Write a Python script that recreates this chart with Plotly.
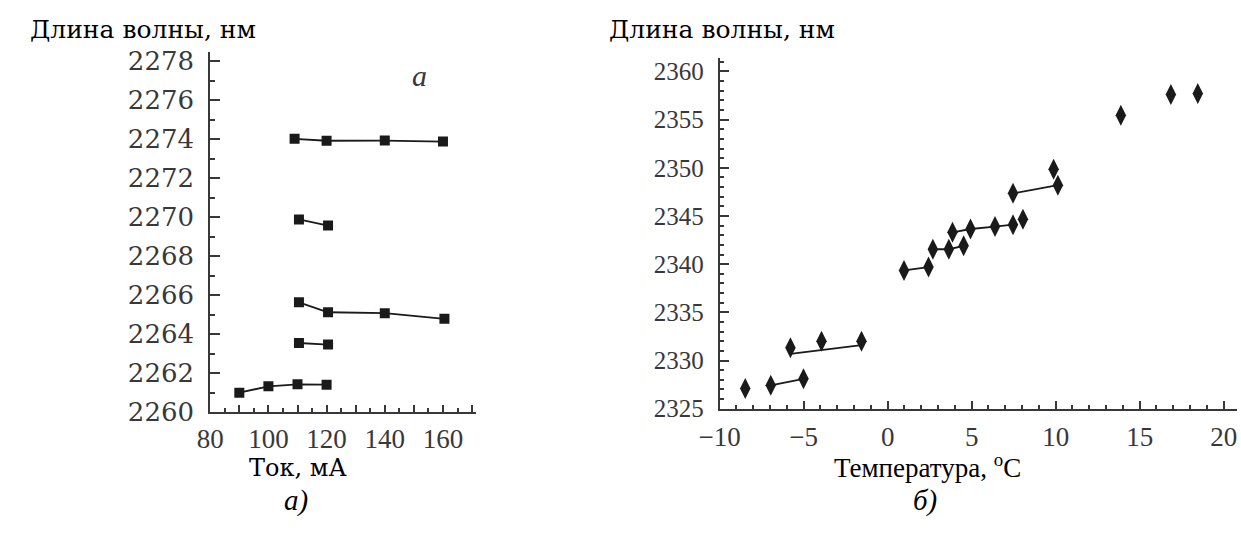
import plotly.graph_objects as go

# ---- panel a: wavelength vs. injection current ----
cur_1 = [109, 120, 140, 160]
wl_1 = [2274.02, 2273.92, 2273.93, 2273.88]
cur_2 = [110.5, 120.5]
wl_2 = [2269.88, 2269.57]
cur_3 = [110.5, 120.5, 140, 160.5]
wl_3 = [2265.63, 2265.12, 2265.07, 2264.78]
cur_4 = [110.5, 120.5]
wl_4 = [2263.54, 2263.46]
cur_5 = [90, 100, 110, 120]
wl_5 = [2260.99, 2261.32, 2261.42, 2261.40]

# ---- panel b: wavelength vs. temperature ----
grp_a_t = [-6.96, -5.01]
grp_a_wl = [2327.43, 2328.10]
grp_b_t = [-5.79, -3.94, -1.56]
grp_b_wl = [2331.33, 2332.00, 2332.00]
fit_b_t = [-5.79, -1.56]
fit_b_wl = [2330.70, 2331.60]
grp_c_t = [0.97, 2.43]
grp_c_wl = [2339.35, 2339.70]
grp_d_t = [2.69, 3.64, 4.52]
grp_d_wl = [2341.55, 2341.55, 2341.90]
grp_e_t = [3.86, 4.93, 6.39, 7.46]
grp_e_wl = [2343.30, 2343.65, 2343.90, 2344.10]
grp_f_t = [7.46, 10.13]
grp_f_wl = [2347.35, 2348.20]
single_t = [-8.48, 8.05, 9.88, 13.88, 16.86, 18.46]
single_wl = [2327.10, 2344.65, 2349.85, 2355.45, 2357.60, 2357.70]

# unlabelled long ticks between the labelled current values
current_mid_ticks = [90, 110, 130, 150, 170]

WIDE = "DejaVu Serif, serif"
TIMES = "Liberation Serif, Times New Roman, serif"
INK = "#1a1a1a"
AX = "#383838"

fig = go.Figure()

sq = dict(symbol="square", size=10, color=INK)
for xs, ys in [(cur_1, wl_1), (cur_2, wl_2), (cur_3, wl_3), (cur_4, wl_4), (cur_5, wl_5)]:
    fig.add_trace(go.Scatter(x=xs, y=ys, mode="lines+markers", marker=sq,
                             line=dict(color=INK, width=1.8),
                             xaxis="x", yaxis="y", showlegend=False))

dm = dict(symbol="diamond-tall", size=15, color=INK)
for xs, ys in [(grp_a_t, grp_a_wl), (grp_c_t, grp_c_wl), (grp_d_t, grp_d_wl),
               (grp_e_t, grp_e_wl), (grp_f_t, grp_f_wl)]:
    fig.add_trace(go.Scatter(x=xs, y=ys, mode="lines+markers", marker=dm,
                             line=dict(color=INK, width=1.8),
                             xaxis="x2", yaxis="y2", showlegend=False))
fig.add_trace(go.Scatter(x=fit_b_t, y=fit_b_wl, mode="lines",
                         line=dict(color=INK, width=1.8),
                         xaxis="x2", yaxis="y2", showlegend=False))
fig.add_trace(go.Scatter(x=grp_b_t, y=grp_b_wl, mode="markers", marker=dm,
                         xaxis="x2", yaxis="y2", showlegend=False))
fig.add_trace(go.Scatter(x=single_t, y=single_wl, mode="markers", marker=dm,
                         xaxis="x2", yaxis="y2", showlegend=False))

axis_common = dict(showline=True, linecolor=AX, linewidth=2, ticks="inside",
                   tickcolor=AX, tickwidth=1.5, showgrid=False, zeroline=False,
                   fixedrange=True)


def minor(step, length):
    return dict(dtick=step, ticklen=length, ticks="inside", tickcolor=AX, tickwidth=1.5)


LEFT_X = [0.1551, 0.3733]
LEFT_RANGE = [80, 171.5]

fig.update_layout(
    width=1241, height=539, autosize=False,
    margin=dict(l=0, r=0, t=0, b=0),
    paper_bgcolor="white", plot_bgcolor="white",
    xaxis=dict(domain=LEFT_X, range=LEFT_RANGE, anchor="y",
               dtick=20, tick0=80, ticklen=7,
               minor=dict(minor(5, 4), tick0=80), ticklabelstandoff=2,
               tickfont=dict(family=TIMES, size=27, color=AX),
               **axis_common),
    # second copy of the current axis carrying only the long unlabelled ticks
    xaxis3=dict(domain=LEFT_X, range=LEFT_RANGE, anchor="y", overlaying="x",
                side="bottom", tickvals=current_mid_ticks, ticks="inside",
                ticklen=7, tickcolor=AX, tickwidth=1.5, showticklabels=False,
                showline=False, showgrid=False, zeroline=False, fixedrange=True),
    yaxis=dict(domain=[0.2158, 0.9104], range=[2260, 2278.5], anchor="x",
               dtick=2, tick0=2260, ticklen=10, minor=minor(1, 5),
               ticklabelstandoff=9,
               tickfont=dict(family=WIDE, size=26, color=AX),
               **axis_common),
    xaxis2=dict(domain=[0.5727, 0.9968], range=[-10, 20.8], anchor="y2",
                dtick=5, tick0=-10, ticklen=8, tickformat="d", minor=minor(1, 4),
                ticklabelstandoff=3,
                tickfont=dict(family=TIMES, size=27, color=AX),
                **axis_common),
    yaxis2=dict(domain=[0.2221, 0.898], range=[2325, 2361.4], anchor="x2",
                dtick=5, tick0=2325, ticklen=9, minor=minor(1, 4),
                ticklabelstandoff=9,
                tickfont=dict(family=TIMES, size=25, color=AX),
                **axis_common),
)

# an invisible point keeps the overlaid tick axis active
fig.add_trace(go.Scatter(x=[current_mid_ticks[0]], y=[wl_5[0]], mode="markers",
                         marker=dict(opacity=0), hoverinfo="skip",
                         xaxis="x3", yaxis="y", showlegend=False))

notes = [
    dict(text="Длина волны, нм", x=7 / 1241, y=1 - 25 / 539, xanchor="left",
         yanchor="middle", font=dict(family=WIDE, size=25, color="black")),
    dict(text="Длина волны, нм", x=596 / 1241, y=1 - 25 / 539, xanchor="left",
         yanchor="middle", font=dict(family=WIDE, size=25, color="black")),
    dict(text="<i>a</i>", x=405 / 1241, y=1 - 73 / 539, xanchor="center",
         yanchor="middle", font=dict(family=TIMES, size=30, color=AX)),
    dict(text="Ток, мА", x=282 / 1241, y=1 - 481 / 539, xanchor="center",
         yanchor="middle", font=dict(family=WIDE, size=24, color="black")),
    dict(text="Температура, <sup>o</sup>C", x=922 / 1241, y=1 - 479 / 539,
         xanchor="center", yanchor="middle",
         font=dict(family=TIMES, size=27, color="black")),
    dict(text="<i>а)</i>", x=280 / 1241, y=1 - 515 / 539, xanchor="center",
         yanchor="middle", font=dict(family=TIMES, size=29, color="black")),
    dict(text="<i>б)</i>", x=920 / 1241, y=1 - 515 / 539, xanchor="center",
         yanchor="middle", font=dict(family=TIMES, size=29, color="black")),
]
for n in notes:
    fig.add_annotation(xref="paper", yref="paper", showarrow=False, **n)

fig.write_html("out.html")
